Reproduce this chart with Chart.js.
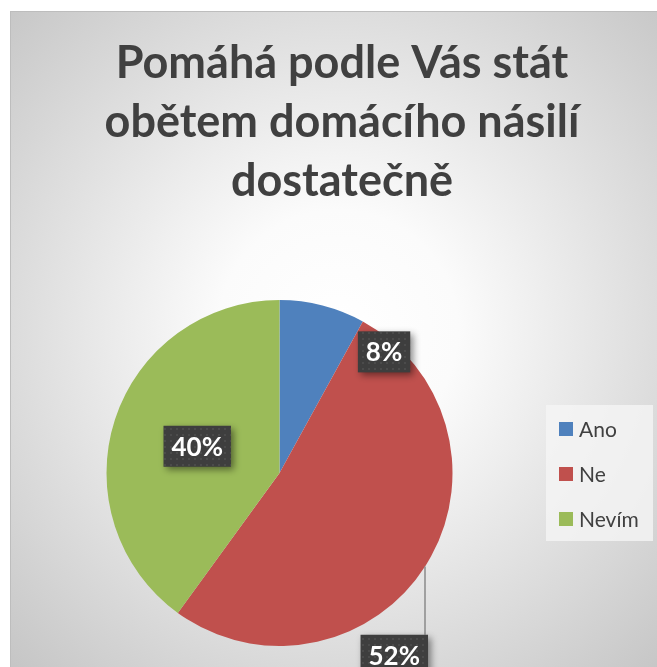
<!DOCTYPE html>
<html>
<head>
<meta charset="utf-8">
<script src="https://cdn.jsdelivr.net/npm/chart.js@4.4.0/dist/chart.umd.min.js"></script>
<style>
  html, body { margin: 0; padding: 0; background: #ffffff; overflow: hidden; }
  canvas { display: block; }
</style>
</head>
<body>
<canvas id="pieChart" width="657" height="667"></canvas>
<script>
// chart data
const titleLines = ['Pomáhá podle Vás stát', 'obětem domácího násilí', 'dostatečně'];
const categories = ['Ano', 'Ne', 'Nevím'];
const shares = [8, 52, 40];
const sliceColors = ['#4f81bd', '#c0504d', '#9bbb59'];

// where each value label sits: angle in degrees from 12 o'clock, distance as share of radius
const labelSpots = [
  { angle: 40.8, dist: 0.925 },
  { angle: 147.8, dist: 1.245, leader: true },
  { angle: null, dist: 0.5 }
];

// background, frame and title
const backdrop = {
  id: 'backdrop',
  beforeDraw(chart) {
    const ctx = chart.ctx;
    ctx.save();
    const grad = ctx.createRadialGradient(338, 330, 0, 338, 330, 480);
    grad.addColorStop(0, '#ffffff');
    grad.addColorStop(0.25, '#fbfbfb');
    grad.addColorStop(1, '#c4c4c4');
    ctx.fillStyle = grad;
    ctx.fillRect(10, 11, 700, 700);
    ctx.strokeStyle = '#bdbdbd';
    ctx.lineWidth = 1;
    ctx.strokeRect(10.5, 11.5, 700, 700);

    ctx.fillStyle = '#404040';
    ctx.font = 'bold 45px Lato, "Open Sans", sans-serif';
    ctx.textAlign = 'center';
    ctx.textBaseline = 'alphabetic';
    titleLines.forEach((line, i) => {
      ctx.fillText(line, 342, 78 + i * 59);
    });
    ctx.restore();
  }
};

// legend box on the right
const sideLegend = {
  id: 'sideLegend',
  afterDraw(chart) {
    const ctx = chart.ctx;
    const ds = chart.data.datasets[0];
    ctx.save();
    ctx.fillStyle = 'rgba(245,245,245,0.8)';
    ctx.fillRect(546, 405, 107, 136);
    ctx.font = '21px Lato, "Open Sans", sans-serif';
    ctx.textBaseline = 'middle';
    ctx.textAlign = 'left';
    chart.data.labels.forEach((label, i) => {
      const y = 429 + i * 45;
      ctx.fillStyle = ds.backgroundColor[i];
      ctx.fillRect(559, y - 7, 14, 14);
      ctx.fillStyle = '#404040';
      ctx.fillText(label, 579, y + 1);
    });
    ctx.restore();
  }
};

// dark value boxes
const valueBoxes = {
  id: 'valueBoxes',
  afterDatasetsDraw(chart) {
    const ctx = chart.ctx;
    const meta = chart.getDatasetMeta(0);
    const values = chart.data.datasets[0].data;
    const total = values.reduce((a, b) => a + b, 0);

    const tile = document.createElement('canvas');
    tile.width = 6; tile.height = 6;
    const tctx = tile.getContext('2d');
    tctx.fillStyle = '#3e3e3e';
    tctx.fillRect(0, 0, 6, 6);
    tctx.fillStyle = '#4b4b4b';
    tctx.fillRect(2, 2, 2, 2);
    const pattern = ctx.createPattern(tile, 'repeat');

    ctx.save();
    ctx.font = 'bold 26px Lato, "Open Sans", sans-serif';
    meta.data.forEach((arc, i) => {
      const spot = labelSpots[i];
      const { x, y, outerRadius, startAngle, endAngle } = arc.getProps(['x', 'y', 'outerRadius', 'startAngle', 'endAngle'], true);
      const ang = spot.angle === null ? (startAngle + endAngle) / 2 : (spot.angle - 90) * Math.PI / 180;
      const cx = x + Math.cos(ang) * outerRadius * spot.dist;
      const cy = y + Math.sin(ang) * outerRadius * spot.dist;
      const text = Math.round(values[i] / total * 100) + '%';
      const w = ctx.measureText(text).width + 16;
      const h = 41;
      const left = cx - w / 2, top = cy - h / 2;

      if (spot.leader) {
        const lx = left + w - 3;
        const dy = Math.sqrt(Math.max(outerRadius * outerRadius - (lx - x) * (lx - x), 0));
        ctx.strokeStyle = '#8a8a8a';
        ctx.lineWidth = 1.5;
        ctx.beginPath();
        ctx.moveTo(lx, y + dy);
        ctx.lineTo(lx, top);
        ctx.stroke();
      }

      ctx.save();
      ctx.shadowColor = 'rgba(0,0,0,0.45)';
      ctx.shadowBlur = 7;
      ctx.shadowOffsetX = 3;
      ctx.shadowOffsetY = 3;
      ctx.fillStyle = pattern;
      ctx.fillRect(left, top, w, h);
      ctx.restore();

      ctx.fillStyle = '#ffffff';
      ctx.textAlign = 'center';
      ctx.textBaseline = 'middle';
      ctx.fillText(text, cx, cy + 1);
    });
    ctx.restore();
  }
};

const ctx = document.getElementById('pieChart');
new Chart(ctx, {
  type: 'pie',
  data: {
    labels: categories,
    datasets: [
      {
        data: shares,
        backgroundColor: sliceColors,
        borderWidth: 0
      }
    ]
  },
  options: {
    responsive: false,
    devicePixelRatio: 1,
    animation: false,
    layout: {
      padding: { left: 106, right: 204, top: 300, bottom: 21 }
    },
    plugins: {
      legend: { display: false },
      title: { display: false },
      tooltip: { enabled: false }
    }
  },
  plugins: [backdrop, sideLegend, valueBoxes]
});
</script>
</body>
</html>
